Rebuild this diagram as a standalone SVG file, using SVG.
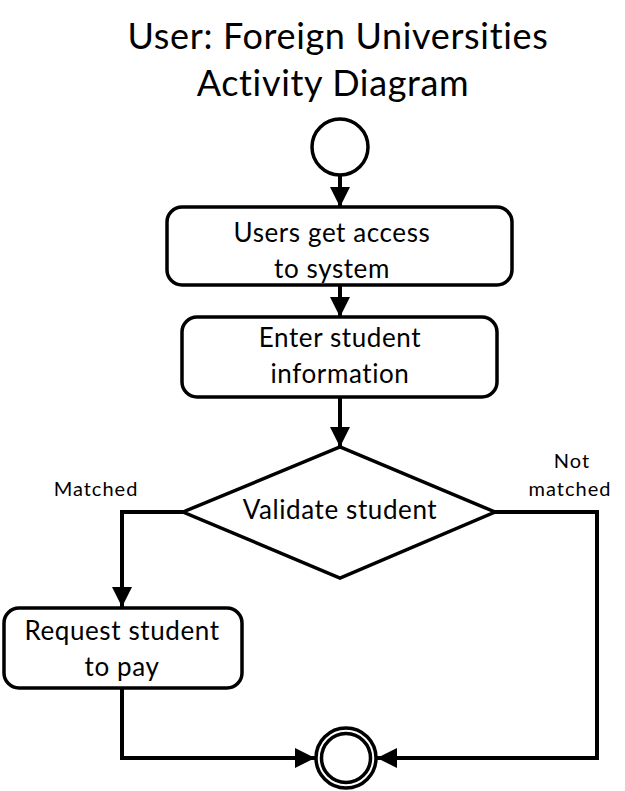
<svg xmlns="http://www.w3.org/2000/svg" width="625" height="791" viewBox="0 0 625 791">
<style>
text{font-family:Lato,"Open Sans","Liberation Sans",sans-serif;fill:#000;text-anchor:middle;font-variant-ligatures:none}
.title{font-size:36px;letter-spacing:0.65px}
.lbl{font-size:26px;letter-spacing:0.6px}
.small{font-size:20px;letter-spacing:1px}
.shape{fill:#fff;stroke:#000;stroke-width:3.5}
.conn{fill:none;stroke:#000;stroke-width:4}
</style>
<defs>
<marker id="arr" markerUnits="userSpaceOnUse" markerWidth="20" markerHeight="20" refX="18" refY="9" orient="auto" viewBox="0 0 18 18">
<path d="M0,0 L18,9 L0,18 Z" fill="#000"/>
</marker>
</defs>
<rect width="625" height="791" fill="#fff"/>
<g id="title">
<text class="title" x="338" y="49">User: Foreign Universities</text>
<text class="title" x="333" y="96">Activity Diagram</text>
</g>
<g id="connectors">
<path class="conn" d="M340,175 V207" marker-end="url(#arr)"/>
<path class="conn" d="M340,285 V317" marker-end="url(#arr)"/>
<path class="conn" d="M340,397 V447" marker-end="url(#arr)"/>
<path class="conn" d="M183,512 H122 V607" marker-end="url(#arr)"/>
<path class="conn" d="M495,512 H597 V758 H377" marker-end="url(#arr)"/>
<path class="conn" d="M122,688 V758 H315" marker-end="url(#arr)"/>
<text class="small" x="96" y="496">Matched</text>
<text class="small" x="572" y="468">Not</text>
<text class="small" x="570" y="496">matched</text>
</g>
<g id="start">
<circle class="shape" cx="340" cy="147" r="28"/>
</g>
<g id="access">
<rect class="shape" x="167" y="207" width="345" height="78" rx="15"/>
<text class="lbl" x="332" y="242">Users get access</text>
<text class="lbl" x="332" y="278">to system</text>
</g>
<g id="enter">
<rect class="shape" x="182" y="317" width="315" height="80" rx="15"/>
<text class="lbl" x="340" y="347">Enter student</text>
<text class="lbl" x="340" y="383">information</text>
</g>
<g id="validate">
<polygon class="shape" points="183,512 340,447 495,512 340,578"/>
<text class="lbl" x="340" y="519">Validate student</text>
</g>
<g id="request">
<rect class="shape" x="4" y="608" width="238" height="80" rx="15"/>
<text class="lbl" x="122" y="640">Request student</text>
<text class="lbl" x="122" y="676">to pay</text>
</g>
<g id="end">
<circle class="shape" cx="346" cy="758" r="30"/>
<circle class="shape" cx="346" cy="758" r="24.5"/>
</g>
</svg>
